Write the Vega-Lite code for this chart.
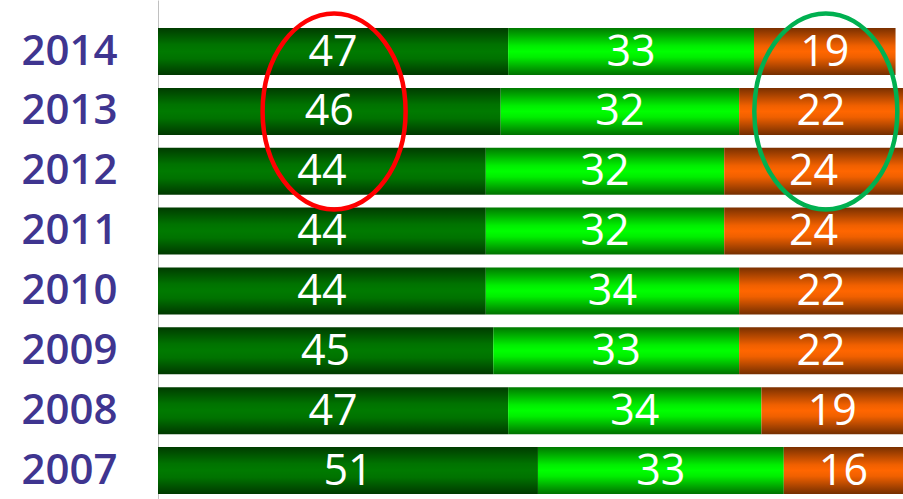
{
  "$schema": "https://vega.github.io/schema/vega-lite/v6.json",
  "width": 745,
  "height": 499,
  "autosize": {"type": "none"},
  "padding": {"left": 158, "top": 0, "right": 0, "bottom": 0},
  "background": "white",
  "config": {"view": {"stroke": null}},
  "data": {
    "values": [
      {"year": "2014", "seg": 1, "value": 47}, {"year": "2014", "seg": 2, "value": 33}, {"year": "2014", "seg": 3, "value": 19},
      {"year": "2013", "seg": 1, "value": 46}, {"year": "2013", "seg": 2, "value": 32}, {"year": "2013", "seg": 3, "value": 22},
      {"year": "2012", "seg": 1, "value": 44}, {"year": "2012", "seg": 2, "value": 32}, {"year": "2012", "seg": 3, "value": 24},
      {"year": "2011", "seg": 1, "value": 44}, {"year": "2011", "seg": 2, "value": 32}, {"year": "2011", "seg": 3, "value": 24},
      {"year": "2010", "seg": 1, "value": 44}, {"year": "2010", "seg": 2, "value": 34}, {"year": "2010", "seg": 3, "value": 22},
      {"year": "2009", "seg": 1, "value": 45}, {"year": "2009", "seg": 2, "value": 33}, {"year": "2009", "seg": 3, "value": 22},
      {"year": "2008", "seg": 1, "value": 47}, {"year": "2008", "seg": 2, "value": 34}, {"year": "2008", "seg": 3, "value": 19},
      {"year": "2007", "seg": 1, "value": 51}, {"year": "2007", "seg": 2, "value": 33}, {"year": "2007", "seg": 3, "value": 16}
    ]
  },
  "transform": [
    {"stack": "value", "groupby": ["year"], "sort": [{"field": "seg", "order": "ascending"}], "as": ["start", "end"]}
  ],
  "encoding": {
    "y": {
      "field": "year",
      "type": "nominal",
      "scale": {
        "domain": ["2014", "2013", "2012", "2011", "2010", "2009", "2008", "2007"],
        "paddingInner": 0.215,
        "paddingOuter": 0.2755,
        "align": 0.85
      },
      "axis": {
        "title": null,
        "ticks": false,
        "labelPadding": 41,
        "labelFont": "Open Sans",
        "labelFontSize": 42,
        "labelFontWeight": 600,
        "labelColor": "#3f3590",
        "domainColor": "#c0c0c0",
        "domainWidth": 1
      }
    }
  },
  "layer": [
    {
      "transform": [{"filter": "datum.seg == 1"}],
      "mark": {
        "type": "bar",
        "color": {
          "gradient": "linear", "x1": 0, "y1": 0, "x2": 0, "y2": 1,
          "stops": [
            {"offset": 0, "color": "#003c00"},
            {"offset": 0.35, "color": "#007200"},
            {"offset": 0.5, "color": "#007a00"},
            {"offset": 0.65, "color": "#007200"},
            {"offset": 1, "color": "#003800"}
          ]
        }
      },
      "encoding": {
        "x": {"field": "start", "type": "quantitative", "scale": {"domain": [0, 100], "nice": false}, "axis": null},
        "x2": {"field": "end"}
      }
    },
    {
      "transform": [{"filter": "datum.seg == 2"}],
      "mark": {
        "type": "bar",
        "color": {
          "gradient": "linear", "x1": 0, "y1": 0, "x2": 0, "y2": 1,
          "stops": [
            {"offset": 0, "color": "#007800"},
            {"offset": 0.38, "color": "#00ee00"},
            {"offset": 0.5, "color": "#00ff00"},
            {"offset": 0.62, "color": "#00ee00"},
            {"offset": 1, "color": "#007000"}
          ]
        }
      },
      "encoding": {
        "x": {"field": "start", "type": "quantitative", "scale": {"domain": [0, 100], "nice": false}, "axis": null},
        "x2": {"field": "end"}
      }
    },
    {
      "transform": [{"filter": "datum.seg == 3"}],
      "mark": {
        "type": "bar",
        "color": {
          "gradient": "linear", "x1": 0, "y1": 0, "x2": 0, "y2": 1,
          "stops": [
            {"offset": 0, "color": "#7a3000"},
            {"offset": 0.38, "color": "#f06000"},
            {"offset": 0.5, "color": "#ff6600"},
            {"offset": 0.62, "color": "#f06000"},
            {"offset": 1, "color": "#742e00"}
          ]
        }
      },
      "encoding": {
        "x": {"field": "start", "type": "quantitative", "scale": {"domain": [0, 100], "nice": false}, "axis": null},
        "x2": {"field": "end"}
      }
    },
    {
      "transform": [
        {"fold": ["start", "end"], "as": ["k", "pos"]},
        {"aggregate": [{"op": "mean", "field": "pos", "as": "mid"}, {"op": "max", "field": "value", "as": "val"}], "groupby": ["year", "seg"]}
      ],
      "mark": {
        "type": "text",
        "color": "white",
        "font": "Open Sans",
        "fontSize": 43,
        "fontWeight": 400,
        "align": "center",
        "baseline": "middle",
        "dy": 1
      },
      "encoding": {
        "x": {"field": "mid", "type": "quantitative", "scale": {"domain": [0, 100], "nice": false}, "axis": null},
        "text": {"field": "val", "type": "quantitative"}
      }
    },
    {
      "transform": [
        {"filter": {"field": "year", "oneOf": ["2012", "2013", "2014"]}},
        {"filter": "datum.seg != 2"},
        {"fold": ["start", "end"], "as": ["k", "pos"]},
        {"aggregate": [{"op": "mean", "field": "pos", "as": "mid"}], "groupby": ["seg"]}
      ],
      "mark": {
        "type": "point",
        "shape": "M 0.06 -0.98 C 0.455 -0.98 0.775 -0.541 0.775 0 C 0.775 0.541 0.455 0.98 0.06 0.98 C -0.335 0.98 -0.655 0.541 -0.655 0 C -0.655 -0.541 -0.335 -0.98 0.06 -0.98 Z",
        "size": 40000,
        "filled": false,
        "strokeWidth": 4.5,
        "opacity": 1
      },
      "encoding": {
        "x": {"field": "mid", "type": "quantitative", "scale": {"domain": [0, 100], "nice": false}, "axis": null},
        "y": {"datum": "2013", "type": "nominal"},
        "stroke": {"field": "seg", "type": "nominal", "scale": {"domain": [1, 3], "range": ["#ff0000", "#00b050"]}, "legend": null}
      }
    }
  ]
}
